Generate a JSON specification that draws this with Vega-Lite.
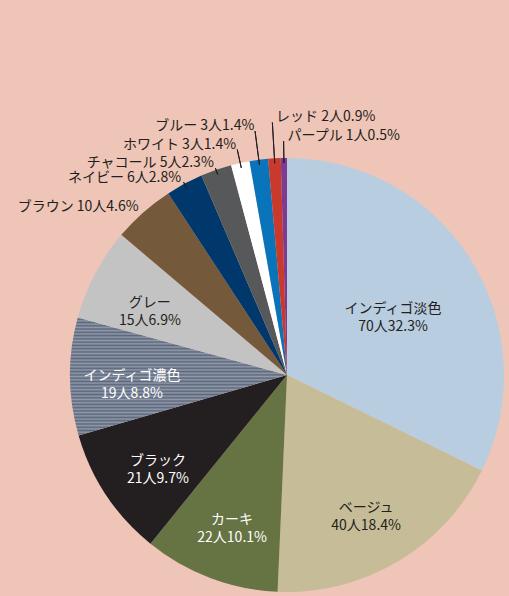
{
  "$schema": "https://vega.github.io/schema/vega-lite/v6.json",
  "width": 434,
  "height": 434,
  "autosize": "none",
  "padding": {"left": 70, "top": 158, "right": 5, "bottom": 4},
  "background": "#efc5b7",
  "view": {"stroke": null},
  "config": {"text": {"font": "Noto Sans CJK JP"}},
  "data": {
    "values": [
      {"i": 1, "name": "インディゴ淡色", "count": 70, "pct": 32.3},
      {"i": 2, "name": "ベージュ", "count": 40, "pct": 18.4},
      {"i": 3, "name": "カーキ", "count": 22, "pct": 10.1},
      {"i": 4, "name": "ブラック", "count": 21, "pct": 9.7},
      {"i": 5, "name": "インディゴ濃色", "count": 19, "pct": 8.8},
      {"i": 6, "name": "グレー", "count": 15, "pct": 6.9},
      {"i": 7, "name": "ブラウン", "count": 10, "pct": 4.6},
      {"i": 8, "name": "ネイビー", "count": 6, "pct": 2.8},
      {"i": 9, "name": "チャコール", "count": 5, "pct": 2.3},
      {"i": 10, "name": "ホワイト", "count": 3, "pct": 1.4},
      {"i": 11, "name": "ブルー", "count": 3, "pct": 1.4},
      {"i": 12, "name": "レッド", "count": 2, "pct": 0.9},
      {"i": 13, "name": "パープル", "count": 1, "pct": 0.5}
    ]
  },
  "transform": [
    {"window": [{"op": "sum", "field": "count", "as": "cum"}], "sort": [{"field": "i", "order": "ascending"}], "frame": [null, 0]},
    {"calculate": "datum.cum - datum.count / 2", "as": "mid"},
    {"calculate": "datum.count >= 50 ? 125 : datum.count >= 15 ? 155 : datum.name === 'ホワイト' ? 236 : datum.name === 'ブルー' ? 251 : datum.name === 'レッド' ? 258 : datum.name === 'パープル' ? 239 : 224", "as": "lr"},
    {"calculate": "datum.lr - 5", "as": "lo"},
    {"calculate": "datum.name + '\\n' + datum.count + '人' + datum.pct + '%'", "as": "inner"},
    {"calculate": "datum.name + ' ' + datum.count + '人' + datum.pct + '%'", "as": "outer"}
  ],
  "layer": [
    {
      "mark": {"type": "arc", "outerRadius": 217},
      "encoding": {
        "theta": {"field": "count", "type": "quantitative", "stack": true},
        "order": {"field": "i", "type": "quantitative"},
        "color": {
          "field": "name",
          "type": "nominal",
          "legend": null,
          "scale": {
            "domain": ["インディゴ淡色", "ベージュ", "カーキ", "ブラック", "インディゴ濃色", "グレー", "ブラウン", "ネイビー", "チャコール", "ホワイト", "ブルー", "レッド", "パープル"],
            "range": ["#b9cde0", "#c7bc98", "#667444", "#231f20", "#77818f", "#c3c3c4", "#74593a", "#00386b", "#57585a", "#ffffff", "#0a74ba", "#c9392c", "#7d3c8f"]
          },
          "condition": {
            "test": "datum.name === 'インディゴ濃色'",
            "value": {
              "gradient": "linear", "x1": 0, "y1": 0, "x2": 0, "y2": 1,
              "stops": [
                {"offset": 0, "color": "#909aac"}, {"offset": 0.0139, "color": "#5c6779"}, {"offset": 0.0278, "color": "#909aac"}, {"offset": 0.0417, "color": "#5c6779"},
                {"offset": 0.0556, "color": "#909aac"}, {"offset": 0.0694, "color": "#5c6779"}, {"offset": 0.0833, "color": "#909aac"}, {"offset": 0.0972, "color": "#5c6779"},
                {"offset": 0.1111, "color": "#909aac"}, {"offset": 0.125, "color": "#5c6779"}, {"offset": 0.1389, "color": "#909aac"}, {"offset": 0.1528, "color": "#5c6779"},
                {"offset": 0.1667, "color": "#909aac"}, {"offset": 0.1806, "color": "#5c6779"}, {"offset": 0.1944, "color": "#909aac"}, {"offset": 0.2083, "color": "#5c6779"},
                {"offset": 0.2222, "color": "#909aac"}, {"offset": 0.2361, "color": "#5c6779"}, {"offset": 0.25, "color": "#909aac"}, {"offset": 0.2639, "color": "#5c6779"},
                {"offset": 0.2778, "color": "#909aac"}, {"offset": 0.2917, "color": "#5c6779"}, {"offset": 0.3056, "color": "#909aac"}, {"offset": 0.3194, "color": "#5c6779"},
                {"offset": 0.3333, "color": "#909aac"}, {"offset": 0.3472, "color": "#5c6779"}, {"offset": 0.3611, "color": "#909aac"}, {"offset": 0.375, "color": "#5c6779"},
                {"offset": 0.3889, "color": "#909aac"}, {"offset": 0.4028, "color": "#5c6779"}, {"offset": 0.4167, "color": "#909aac"}, {"offset": 0.4306, "color": "#5c6779"},
                {"offset": 0.4444, "color": "#909aac"}, {"offset": 0.4583, "color": "#5c6779"}, {"offset": 0.4722, "color": "#909aac"}, {"offset": 0.4861, "color": "#5c6779"},
                {"offset": 0.5, "color": "#909aac"}, {"offset": 0.5139, "color": "#5c6779"}, {"offset": 0.5278, "color": "#909aac"}, {"offset": 0.5417, "color": "#5c6779"},
                {"offset": 0.5556, "color": "#909aac"}, {"offset": 0.5694, "color": "#5c6779"}, {"offset": 0.5833, "color": "#909aac"}, {"offset": 0.5972, "color": "#5c6779"},
                {"offset": 0.6111, "color": "#909aac"}, {"offset": 0.625, "color": "#5c6779"}, {"offset": 0.6389, "color": "#909aac"}, {"offset": 0.6528, "color": "#5c6779"},
                {"offset": 0.6667, "color": "#909aac"}, {"offset": 0.6806, "color": "#5c6779"}, {"offset": 0.6944, "color": "#909aac"}, {"offset": 0.7083, "color": "#5c6779"},
                {"offset": 0.7222, "color": "#909aac"}, {"offset": 0.7361, "color": "#5c6779"}, {"offset": 0.75, "color": "#909aac"}, {"offset": 0.7639, "color": "#5c6779"},
                {"offset": 0.7778, "color": "#909aac"}, {"offset": 0.7917, "color": "#5c6779"}, {"offset": 0.8056, "color": "#909aac"}, {"offset": 0.8194, "color": "#5c6779"},
                {"offset": 0.8333, "color": "#909aac"}, {"offset": 0.8472, "color": "#5c6779"}, {"offset": 0.8611, "color": "#909aac"}, {"offset": 0.875, "color": "#5c6779"},
                {"offset": 0.8889, "color": "#909aac"}, {"offset": 0.9028, "color": "#5c6779"}, {"offset": 0.9167, "color": "#909aac"}, {"offset": 0.9306, "color": "#5c6779"},
                {"offset": 0.9444, "color": "#909aac"}, {"offset": 0.9583, "color": "#5c6779"}, {"offset": 0.9722, "color": "#909aac"}, {"offset": 0.9861, "color": "#5c6779"},
                {"offset": 1, "color": "#909aac"}
              ]
            }
          }
        }
      }
    },
    {
      "transform": [{"filter": "datum.count <= 6"}],
      "mark": {"type": "arc", "fill": null, "stroke": "#231f20", "strokeWidth": 1},
      "encoding": {
        "theta": {"field": "mid", "type": "quantitative", "stack": null},
        "theta2": {"field": "mid"},
        "radius": {"field": "lo", "type": "quantitative", "scale": null},
        "radius2": {"value": 212}
      }
    },
    {
      "transform": [{"filter": "datum.count >= 15"}],
      "mark": {"type": "text", "fontSize": 14, "lineBreak": "\n", "lineHeight": 18, "align": "center", "baseline": "middle"},
      "encoding": {
        "theta": {"field": "mid", "type": "quantitative", "stack": null},
        "radius": {"field": "lr", "type": "quantitative", "scale": null},
        "text": {"field": "inner"},
        "color": {
          "condition": {"test": "indexof(['カーキ', 'ブラック', 'インディゴ濃色'], datum.name) >= 0", "value": "#ffffff"},
          "value": "#231f20"
        }
      }
    },
    {
      "transform": [{"filter": "datum.count <= 10 && datum.name !== 'レッド' && datum.name !== 'パープル'"}],
      "mark": {"type": "text", "fontSize": 14, "align": "right", "baseline": "middle", "color": "#231f20"},
      "encoding": {
        "theta": {"field": "mid", "type": "quantitative", "stack": null},
        "radius": {"field": "lr", "type": "quantitative", "scale": null},
        "text": {"field": "outer"}
      }
    },
    {
      "transform": [{"filter": "datum.name === 'レッド' || datum.name === 'パープル'"}],
      "mark": {"type": "text", "fontSize": 14, "align": "left", "baseline": "middle", "color": "#231f20", "dx": 4},
      "encoding": {
        "theta": {"field": "mid", "type": "quantitative", "stack": null},
        "radius": {"field": "lr", "type": "quantitative", "scale": null},
        "text": {"field": "outer"}
      }
    }
  ]
}
